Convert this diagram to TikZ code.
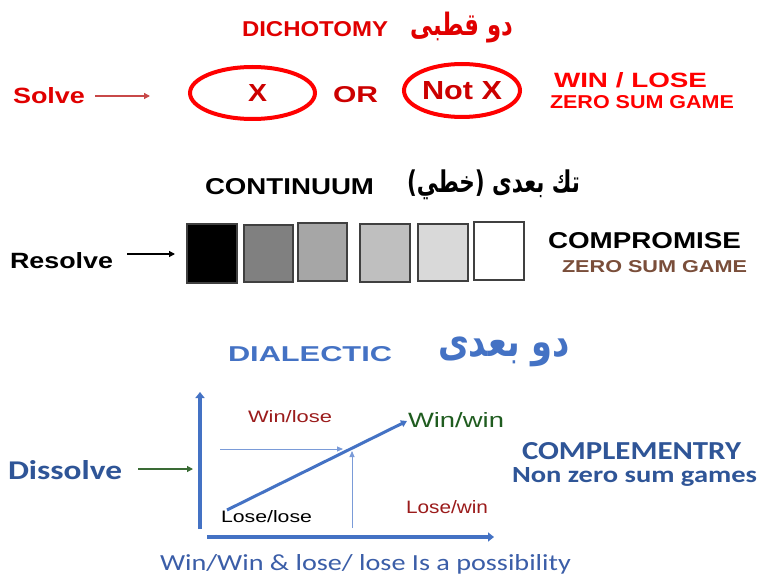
\documentclass[tikz,border=0pt]{standalone}
\usepackage{fontspec}
\usepackage{graphicx}
\usetikzlibrary{arrows.meta,shapes.geometric}
\setmainfont{Liberation Sans}
\newfontfamily\carlito{Carlito}
\newfontfamily\arabicfont[Script=Arabic]{DejaVu Sans}
\TeXXeTstate=1
\definecolor{tred}{HTML}{E00000}
\definecolor{ered}{HTML}{FF0000}
\definecolor{dred}{HTML}{CC0000}
\definecolor{sarrow}{HTML}{C84848}
\definecolor{brown}{HTML}{7A4E3A}
\definecolor{dblue}{HTML}{4472C4}
\definecolor{nblue}{HTML}{2F5597}
\definecolor{bblue}{HTML}{3B5EA8}
\definecolor{tblue}{HTML}{7A9BD8}
\definecolor{wlred}{HTML}{9B1B1B}
\definecolor{wwgreen}{HTML}{1F5C1F}
\definecolor{garrow}{HTML}{3A6B35}
\newcommand\fitT[3]{\resizebox{#1pt}{#2pt}{#3}}
\newcommand\fitA[3]{\resizebox*{#1pt}{#2pt}{#3}}
\tikzset{
  lbl/.style={inner sep=0pt, outer sep=0pt, anchor=base west},
  arl/.style={inner sep=0pt, outer sep=0pt, anchor=north west},
  oval/.style={draw=ered, line width=4pt},
  shade/.style={draw=black!75, line width=1.2pt},
  axis/.style={draw=dblue, line width=4.5pt, -{Triangle[length=6pt,width=9pt]}},
  thin/.style={draw=tblue, line width=0.9pt, -{Triangle[length=6pt,width=5pt]}},
}
\begin{document}
\begin{tikzpicture}[x=1pt,y=-1pt]
\useasboundingbox[fill=white] (0,0) rectangle (758,575);
% ---- Dichotomy
\node[lbl, text=tred] (dich) at (242,37) {\fitT{146}{15}{\bfseries DICHOTOMY}};
\node[arl, text=tred] (dichar) at (410,12) {\fitA{103}{31}{\arabicfont\bfseries\beginR دو قطبی\endR}};
\node[lbl, text=tred] (solve) at (13,104) {\fitT{72}{16}{\bfseries Solve}};
\coordinate (sa1) at (95,96);
\coordinate (sa2) at (150,96);
\draw[sarrow, line width=1.3pt, -{Triangle[length=6pt,width=6pt]}] (sa1) -- (sa2);
\draw[oval] (252.5,93) ellipse [x radius=62.5, y radius=26];
\draw[oval] (462,90.5) ellipse [x radius=58, y radius=26.5];
\node[lbl, text=dred] (x) at (248,102) {\fitT{19}{17}{\bfseries X}};
\node[lbl, text=dred] (or) at (333,103) {\fitT{45}{16}{\bfseries OR}};
\node[lbl, text=dred] (notx) at (422,100) {\fitT{80}{18}{\bfseries Not X}};
\node[lbl, text=ered] (winlose) at (554,88) {\fitT{153}{15}{\bfseries WIN / LOSE}};
\node[lbl, text=ered] (zsg1) at (550,109) {\fitT{184}{13}{\bfseries ZERO SUM GAME}};
% ---- Continuum
\node[lbl, text=black] (cont) at (205,195) {\fitT{169}{16}{\bfseries CONTINUUM}};
\node[arl, text=black] (contar) at (407,170) {\fitA{173}{30}{\arabicfont\bfseries )\beginR خطي\endR( \beginR تك بعدى\endR}};
\node[lbl, text=black] (resolve) at (10,268) {\fitT{103}{16}{\bfseries Resolve}};
\coordinate (ra1) at (127,254);
\coordinate (ra2) at (175,254);
\draw[black, line width=1.2pt, -{Triangle[length=6pt,width=6pt]}] (ra1) -- (ra2);
\filldraw[shade, fill=black] (187,224) rectangle (237,283);
\filldraw[shade, fill=black!50] (244,225) rectangle (293,282);
\filldraw[shade, fill=black!35] (298,223) rectangle (347,281);
\filldraw[shade, fill=black!25] (360,224) rectangle (410,282);
\filldraw[shade, fill=black!15] (418,224) rectangle (468,281);
\filldraw[shade, fill=white] (474,222) rectangle (524,280);
\node[lbl, text=black] (comp) at (548,248) {\fitT{193}{16}{\bfseries COMPROMISE}};
\node[lbl, text=brown] (zsg2) at (562,272) {\fitT{185}{12}{\bfseries ZERO SUM GAME}};
% ---- Dialectic
\node[lbl, text=dblue] (dial) at (228,361) {\fitT{164}{15}{\bfseries DIALECTIC}};
\node[arl, text=dblue] (dialar) at (438,337) {\fitA{132}{30}{\arabicfont\bfseries\beginR دو بعدی\endR}};
\coordinate (yb) at (200,529);
\coordinate (yt) at (200,392);
\coordinate (xl) at (207,537);
\coordinate (xr) at (494,537);
\draw[axis] (yb) -- (yt);
\draw[axis] (xl) -- (xr);
\coordinate (d1) at (227,510);
\coordinate (d2) at (407,421);
\draw[dblue, line width=3pt, -{Triangle[length=6pt,width=7pt]}] (d1) -- (d2);
\coordinate (h1) at (220,449);
\coordinate (h2) at (343,449);
\draw[thin] (h1) -- (h2);
\coordinate (v1) at (352,528);
\coordinate (v2) at (352,451);
\draw[thin] (v1) -- (v2);
\node[lbl, text=wlred] (wl) at (248,422) {\fitT{84}{12}{Win/lose}};
\node[lbl, text=wwgreen] (ww) at (408,427) {\fitT{96}{15}{Win/win}};
\node[lbl, text=black] (ll) at (221,522) {\fitT{91}{12}{Lose/lose}};
\node[lbl, text=wlred] (lw) at (406,513) {\fitT{82}{13}{Lose/win}};
\node[lbl, text=nblue] (diss) at (8,479) {\fitT{114}{19}{\carlito\bfseries Dissolve}};
\coordinate (g1) at (138,469);
\coordinate (g2) at (193,469);
\draw[garrow, line width=1.2pt, -{Triangle[length=6pt,width=6pt]}] (g1) -- (g2);
\node[lbl, text=nblue] (compl) at (522,459) {\fitT{219}{17}{\carlito\bfseries COMPLEMENTRY}};
\node[lbl, text=nblue] (nzs) at (512,482) {\fitT{245}{15}{\carlito\bfseries Non zero sum  games}};
\node[lbl, text=bblue] (poss) at (160,570) {\fitT{411}{16}{\carlito Win/Win \& lose/ lose Is a possibility}};
\end{tikzpicture}
\end{document}
